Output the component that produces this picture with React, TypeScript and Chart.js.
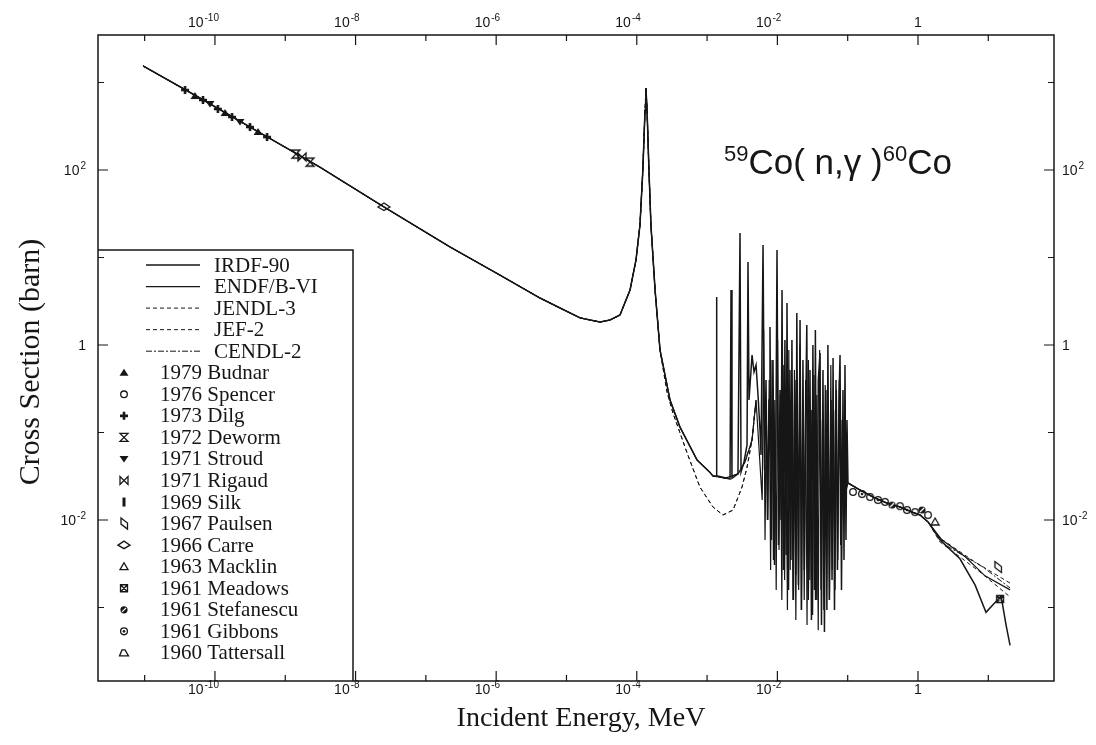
import React, { useEffect, useRef } from 'react';
import { Chart, registerables } from 'chart.js';

Chart.register(...registerables);

// ---------------- data (energy in MeV, cross section in barn) ----------------
// shared low-energy part: 1/v region and the 132 eV resonance
const lowEnergy = [9.5e-12, 6.1e-11, 4.4e-10, 3.1e-9, 2.53e-8, 2.2e-7, 1.13e-6, 4.2e-6, 8.1e-6, 1.56e-5, 3.0e-5, 4.16e-5, 5.77e-5, 8.02e-5, 9.75e-5, 1.11e-4, 1.22e-4, 1.31e-4, 1.35e-4, 1.40e-4, 1.49e-4, 1.59e-4, 1.82e-4, 2.14e-4];
const lowSigma = [1545, 665, 265, 108, 37.8, 13.2, 6.3, 3.44, 2.65, 2.04, 1.83, 1.93, 2.2, 4.26, 9.4, 23.5, 100, 485, 865, 485, 100, 23.5, 4.26, 0.877];

// upper valley after the resonance (IRDF-90, ENDF/B-VI, CENDL-2)
const upperValleyEnergy = [2.97e-4, 4.1e-4, 7.2e-4, 1.10e-3];
const upperValleySigma = [0.235, 0.116, 0.0485, 0.035];
const upperRestEnergy = [1.21e-3, 1.8e-3, 2.75e-3, 3.46e-3, 4.36e-3, 4.97e-3];
const upperRestSigma = [0.0318, 0.030, 0.0336, 0.046, 0.082, 0.235];

// lower valley (JENDL-3, JEF-2)
const lowerValleyEnergy = [2.69e-4, 3.27e-4, 5.2e-4, 7.9e-4, 1.21e-3, 1.68e-3, 2.34e-3, 3.14e-3, 3.7e-3, 4.35e-3, 4.97e-3];
const lowerValleySigma = [0.29, 0.167, 0.0583, 0.0238, 0.0141, 0.0114, 0.0130, 0.0238, 0.040, 0.082, 0.235];

// resolved resonance region, IRDF-90 (keV)
const bandKeV = [1.21, 1.34, 1.36, 1.38, 2.12, 2.19, 2.26, 2.75, 2.94, 3.04, 3.35, 3.70, 3.82, 3.95, 4.22, 4.36, 4.65, 4.97, 5.30, 5.66, 5.85, 6.25, 6.57, 6.89, 7.23, 7.60, 7.85, 8.24, 8.66, 9.10, 9.56, 9.88, 10.37, 10.9, 11.26, 11.64, 12.2, 12.8, 13.3, 13.7, 14.4, 15.1, 15.6, 16.1, 16.9, 17.7, 18.3, 18.9, 19.9, 21.0, 22.0, 23.1, 24.2, 25.4, 26.2, 27.5, 29.1, 30.5, 32.0, 33.6, 34.7, 36.4, 38.2, 40.4, 42.4, 44.5, 46.7, 49.0, 50.6, 52.3, 54.9, 57.9, 59.9, 61.9, 64.9, 68.1, 71.5, 75.3, 77.8, 81.6, 85.7, 88.6, 91.5, 94.5, 97.7];
const bandSigma = [0.0318, 0.032, 3.54, 0.032, 0.0294, 4.26, 0.030, 0.0336, 19.0, 0.0354, 0.046, 0.072, 8.9, 0.235, 0.518, 0.769, 0.491, 0.59, 0.268, 0.107, 0.0553, 13.9, 0.0373, 0.398, 0.01, 0.235, 1.61, 0.0059, 0.674, 0.00306, 0.139, 12.2, 0.00518, 0.306, 0.01, 4.26, 0.00268, 1.14, 0.00398, 3.02, 0.00158, 0.518, 0.00349, 1.14, 0.00122, 0.398, 0.00235, 2.32, 0.00181, 1.93, 0.000936, 0.674, 0.00268, 0.235, 1.69, 0.00122, 0.518, 0.00072, 1.0, 0.00158, 1.48, 0.00122, 0.398, 0.81, 0.00063, 0.518, 0.000525, 0.306, 0.000936, 1.0, 0.00122, 0.235, 0.00206, 0.71, 0.000936, 0.398, 0.00268, 0.235, 0.769, 0.00158, 0.306, 0.00349, 0.59, 0.0059, 0.139];

// resolved resonance region, ENDF/B-VI (keV)
const endfBandKeV = [6.08, 6.37, 6.67, 6.98, 7.31, 7.65, 8.01, 8.39, 8.78, 9.19, 9.62, 10.07, 10.55, 11.04, 11.56, 12.10, 12.67, 13.27, 13.89, 14.54, 15.22, 15.94, 16.69, 17.47, 18.29, 19.15, 20.05, 20.99, 21.97, 23.00, 24.08, 25.21, 26.40, 27.63, 28.93, 30.29, 31.71, 33.20, 34.76, 36.39, 38.10, 39.88, 41.76, 43.71, 45.77, 47.91, 50.16, 52.52, 54.98, 57.56, 60.26, 63.09, 66.05, 69.15, 72.40, 75.79, 79.35, 83.07, 86.97, 91.05, 95.3];
const endfBandSigma = [0.0169, 1.48, 0.0059, 0.139, 0.01, 0.398, 0.00268, 0.674, 0.00349, 0.235, 0.00158, 1.14, 0.00454, 0.268, 0.00122, 0.59, 0.00206, 0.181, 0.000936, 0.877, 0.00268, 0.306, 0.00122, 0.518, 0.00072, 0.139, 0.00158, 1.0, 0.000936, 0.235, 0.00122, 0.398, 0.00063, 0.674, 0.00206, 0.181, 0.00082, 0.454, 0.00122, 0.268, 0.00055, 0.877, 0.00158, 0.139, 0.000936, 0.349, 0.00206, 0.235, 0.00122, 0.59, 0.00268, 0.181, 0.00158, 0.306, 0.00349, 0.398, 0.00518, 0.139, 0.01, 0.235, 0.022];

// common fast region
const tailEnergy = [0.101, 0.15, 0.229, 0.362, 0.555, 0.85, 1.07, 1.39];
const tailSigma = [0.0265, 0.022, 0.0183, 0.0156, 0.0141, 0.0122, 0.0114, 0.0095];

// high-energy ends of each evaluation
const irdfHighEnergy = [2.06, 3.95, 6.5, 9.27, 15.2, 17.9, 20.4];
const irdfHighSigma = [0.0059, 0.0036, 0.0018, 0.00088, 0.00135, 0.00063, 0.00037];
const endfHighEnergy = [2.2, 4.7, 8.97, 20.4];
const endfHighSigma = [0.0059, 0.0038, 0.0023, 0.00159];
const jendlHighEnergy = [2.06, 6.5, 20.4];
const jendlHighSigma = [0.0062, 0.0033, 0.0019];
const jefHighEnergy = [2.06, 7.6, 20.4];
const jefHighSigma = [0.0056, 0.00255, 0.00132];
const cendlHighEnergy = [2.42, 8.4, 20.4];
const cendlHighSigma = [0.0052, 0.0029, 0.00167];

// experimental points
const budnarE = [5.2e-11, 1.39e-10, 4.1e-10];
const budnarS = [700, 448, 272];
const spencerE = [0.119, 0.208, 0.34, 0.555, 0.908, 1.39];
const spencerS = [0.0209, 0.0183, 0.0161, 0.0144, 0.0123, 0.0114];
const dilgE = [3.75e-11, 6.76e-11, 1.1e-10, 1.75e-10, 3.15e-10, 5.5e-10];
const dilgS = [820, 631, 498, 403, 310, 238];
const dewormE = [1.42e-9, 2.25e-9];
const dewormS = [152, 123];
const stroudE = [8.5e-11, 2.27e-10];
const stroudS = [568, 354];
const rigaudE = [1.73e-9];
const rigaudS = [141];
const silkE: number[] = [];
const silkS: number[] = [];
const paulsenE = [13.7];
const paulsenS = [0.0029];
const carreE = [2.53e-8];
const carreS = [37.8];
const macklinE = [1.75];
const macklinS = [0.0095];
const meadowsE = [14.7];
const meadowsS = [0.00125];
const stefanescuE = [0.427, 1.14];
const stefanescuS = [0.0148, 0.013];
const gibbonsE = [0.16, 0.27, 0.698];
const gibbonsS = [0.0198, 0.0169, 0.013];
const tattersallE: number[] = [];
const tattersallS: number[] = [];

// axes
const xMinE = 2.17e-12;
const xMaxE = 86;
const yMinS = 1.445e-4;
const yMaxS = 3490;
const xDecades = [-11, -10, -9, -8, -7, -6, -5, -4, -3, -2, -1, 0, 1];
const xLabelExps = [-10, -8, -6, -4, -2, 0];
const yDecades = [-3, -2, -1, 0, 1, 2, 3];
const yLabelExps = [2, 0, -2];

const lineNames = ['IRDF-90', 'ENDF/B-VI', 'JENDL-3', 'JEF-2', 'CENDL-2'];
const lineDashes: number[][] = [[], [], [4, 3], [4, 3], [6, 2, 2, 2]];
const lineWidths = [1.5, 1.2, 1.0, 1.0, 1.0];
const expNames = ['1979 Budnar', '1976 Spencer', '1973 Dilg', '1972 Deworm', '1971 Stroud', '1971 Rigaud', '1969 Silk', '1967 Paulsen', '1966 Carre', '1963 Macklin', '1961 Meadows', '1961 Stefanescu', '1961 Gibbons', '1960 Tattersall'];
const expKinds = ['budnar', 'spencer', 'dilg', 'deworm', 'stroud', 'rigaud', 'silk', 'paulsen', 'carre', 'macklin', 'meadows', 'stefanescu', 'gibbons', 'tattersall'];
const expEnergies = [budnarE, spencerE, dilgE, dewormE, stroudE, rigaudE, silkE, paulsenE, carreE, macklinE, meadowsE, stefanescuE, gibbonsE, tattersallE];
const expSigmas = [budnarS, spencerS, dilgS, dewormS, stroudS, rigaudS, silkS, paulsenS, carreS, macklinS, meadowsS, stefanescuS, gibbonsS, tattersallS];

const INK = '#161616';
const SANS = '"Liberation Sans", Arial, Helvetica, sans-serif';
const SERIF = '"Liberation Serif", "Times New Roman", serif';

type P = { x: number; y: number | null };
const pts = (es: number[], ss: number[], scale = 1): P[] => es.map((e, i) => ({ x: e * scale, y: ss[i] }));
const GAP: P[] = [{ x: 0.03, y: null }];

function drawSymbol(ctx: CanvasRenderingContext2D, kind: string, cx: number, cy: number) {
  ctx.save();
  ctx.strokeStyle = INK;
  ctx.fillStyle = INK;
  ctx.lineWidth = 1.3;
  ctx.beginPath();
  switch (kind) {
    case 'budnar':
      ctx.moveTo(cx, cy - 4); ctx.lineTo(cx + 4.5, cy + 3); ctx.lineTo(cx - 4.5, cy + 3); ctx.closePath(); ctx.fill();
      break;
    case 'spencer':
      ctx.arc(cx, cy, 3.3, 0, Math.PI * 2); ctx.stroke();
      break;
    case 'dilg':
      ctx.lineWidth = 2.6;
      ctx.moveTo(cx - 4, cy); ctx.lineTo(cx + 4, cy); ctx.moveTo(cx, cy - 4); ctx.lineTo(cx, cy + 4); ctx.stroke();
      break;
    case 'deworm':
      ctx.moveTo(cx - 4, cy - 4); ctx.lineTo(cx + 4, cy - 4); ctx.lineTo(cx - 4, cy + 4); ctx.lineTo(cx + 4, cy + 4); ctx.closePath(); ctx.stroke();
      break;
    case 'stroud':
      ctx.moveTo(cx - 4.5, cy - 3); ctx.lineTo(cx + 4.5, cy - 3); ctx.lineTo(cx, cy + 3.5); ctx.closePath(); ctx.fill();
      break;
    case 'rigaud':
      ctx.moveTo(cx - 4, cy - 4); ctx.lineTo(cx - 4, cy + 4); ctx.lineTo(cx + 4, cy - 4); ctx.lineTo(cx + 4, cy + 4); ctx.closePath(); ctx.stroke();
      break;
    case 'silk':
      ctx.fillRect(cx - 1.5, cy - 4.5, 3, 9);
      break;
    case 'paulsen':
      ctx.moveTo(cx - 3, cy - 5.5); ctx.lineTo(cx + 3.5, cy - 0.5); ctx.lineTo(cx + 3.5, cy + 5.5); ctx.lineTo(cx - 3, cy + 0.5); ctx.closePath(); ctx.stroke();
      break;
    case 'carre':
      ctx.moveTo(cx - 6, cy); ctx.lineTo(cx, cy - 4); ctx.lineTo(cx + 6, cy); ctx.lineTo(cx, cy + 3.5); ctx.closePath(); ctx.stroke();
      break;
    case 'macklin':
      ctx.moveTo(cx, cy - 4); ctx.lineTo(cx + 4, cy + 3); ctx.lineTo(cx - 4, cy + 3); ctx.closePath(); ctx.stroke();
      break;
    case 'meadows':
      ctx.rect(cx - 3.5, cy - 3.5, 7, 7); ctx.moveTo(cx - 3.5, cy - 3.5); ctx.lineTo(cx + 3.5, cy + 3.5); ctx.moveTo(cx + 3.5, cy - 3.5); ctx.lineTo(cx - 3.5, cy + 3.5); ctx.stroke();
      break;
    case 'stefanescu':
      ctx.arc(cx, cy, 3.6, 0, Math.PI * 2); ctx.fill();
      ctx.beginPath(); ctx.strokeStyle = '#fff'; ctx.lineWidth = 1.2; ctx.moveTo(cx - 2, cy + 2); ctx.lineTo(cx + 2, cy - 2); ctx.stroke();
      break;
    case 'gibbons':
      ctx.arc(cx, cy, 3.4, 0, Math.PI * 2); ctx.stroke();
      ctx.beginPath(); ctx.arc(cx, cy, 1.3, 0, Math.PI * 2); ctx.fill();
      break;
    case 'tattersall':
      ctx.moveTo(cx - 4.5, cy + 3); ctx.lineTo(cx + 4.5, cy + 3); ctx.lineTo(cx + 1, cy - 3); ctx.lineTo(cx - 2, cy - 3); ctx.closePath(); ctx.stroke();
      break;
  }
  ctx.restore();
}

function symbolCanvas(kind: string): HTMLCanvasElement {
  const c = document.createElement('canvas');
  c.width = 16; c.height = 16;
  const g = c.getContext('2d')!;
  drawSymbol(g, kind, 8, 8);
  return c;
}

function powLabel(ctx: CanvasRenderingContext2D, exp: number, x: number, y: number, mode: 'tick' | 'left' | 'right') {
  const base = exp === 0 ? '1' : '10';
  const sup = exp === 0 ? '' : String(exp);
  ctx.font = `14px ${SANS}`;
  const bw = ctx.measureText(base).width;
  ctx.font = `10px ${SANS}`;
  const sw = sup ? ctx.measureText(sup).width + 1 : 0;
  const total = bw + sw;
  let left: number;
  if (mode === 'left') left = x;
  else if (mode === 'right') left = x - total;
  else left = exp === 0 ? x - total / 2 : x + 4 - total;
  ctx.textAlign = 'left';
  ctx.textBaseline = 'alphabetic';
  ctx.font = `14px ${SANS}`;
  ctx.fillText(base, left, y);
  if (sup) {
    ctx.font = `10px ${SANS}`;
    ctx.fillText(sup, left + bw + 1, y - 6);
  }
}

const decorations = {
  id: 'decorations',
  afterDatasetsDraw(chart: any) {
    const { ctx, chartArea: a, scales } = chart;
    const xs = scales.x;
    const ys = scales.y;
    ctx.save();
    ctx.fillStyle = INK;
    ctx.strokeStyle = INK;

    // legend box
    const lgRight = 353;
    const lgTop = 250;
    ctx.fillStyle = '#fff';
    ctx.fillRect(a.left, lgTop, lgRight - a.left, a.bottom - lgTop);
    ctx.fillStyle = INK;
    ctx.lineWidth = 1.5;
    ctx.beginPath();
    ctx.moveTo(a.left, lgTop); ctx.lineTo(lgRight, lgTop); ctx.lineTo(lgRight, a.bottom);
    ctx.stroke();
    const rowY = (i: number) => 265 + i * 21.55;
    ctx.font = `21px ${SERIF}`;
    ctx.textAlign = 'left';
    ctx.textBaseline = 'middle';
    lineNames.forEach((name, i) => {
      const y = rowY(i);
      ctx.save();
      ctx.lineWidth = lineWidths[i];
      ctx.setLineDash(lineDashes[i]);
      ctx.beginPath(); ctx.moveTo(146, y); ctx.lineTo(200, y); ctx.stroke();
      ctx.restore();
      ctx.fillText(name, 214, y + 1);
    });
    expNames.forEach((name, i) => {
      const y = rowY(i + lineNames.length);
      drawSymbol(ctx, expKinds[i], 124, y);
      ctx.fillText(name, 160, y + 1);
    });

    // frame
    ctx.lineWidth = 1.5;
    ctx.strokeRect(a.left, a.top, a.right - a.left, a.bottom - a.top);

    // ticks
    ctx.lineWidth = 1.2;
    ctx.beginPath();
    xDecades.forEach((e) => {
      const px = xs.getPixelForValue(Math.pow(10, e));
      const len = xLabelExps.includes(e) ? 10 : 6;
      ctx.moveTo(px, a.bottom); ctx.lineTo(px, a.bottom - len);
      ctx.moveTo(px, a.top); ctx.lineTo(px, a.top + len);
    });
    yDecades.forEach((e) => {
      const py = ys.getPixelForValue(Math.pow(10, e));
      const len = yLabelExps.includes(e) ? 10 : 6;
      ctx.moveTo(a.left, py); ctx.lineTo(a.left + len, py);
      ctx.moveTo(a.right, py); ctx.lineTo(a.right - len, py);
    });
    ctx.stroke();

    // tick labels
    xLabelExps.forEach((e) => {
      const px = xs.getPixelForValue(Math.pow(10, e));
      powLabel(ctx, e, px, a.bottom + 13, 'tick');
      powLabel(ctx, e, px, a.top - 8, 'tick');
    });
    yLabelExps.forEach((e) => {
      const py = ys.getPixelForValue(Math.pow(10, e));
      powLabel(ctx, e, a.left - 12, py + 5, 'right');
      powLabel(ctx, e, a.right + 8, py + 5, 'left');
    });

    // axis titles
    ctx.textAlign = 'center';
    ctx.textBaseline = 'middle';
    ctx.font = `28px ${SERIF}`;
    ctx.fillText('Incident Energy, MeV', 581, 719);
    ctx.save();
    ctx.translate(31, 362);
    ctx.rotate(-Math.PI / 2);
    ctx.font = `30px ${SERIF}`;
    ctx.fillText('Cross Section (barn)', 0, 0);
    ctx.restore();

    // reaction title
    ctx.textAlign = 'left';
    ctx.textBaseline = 'alphabetic';
    let tx = 724;
    const ty = 174;
    const part = (s: string, size: number, rise: number) => {
      ctx.font = `${size}px ${SANS}`;
      ctx.fillText(s, tx, ty - rise);
      tx += ctx.measureText(s).width;
    };
    part('59', 22, 13);
    part('Co( n,\u03b3 )', 35, 0);
    part('60', 22, 13);
    part('Co', 35, 0);

    ctx.restore();
  },
};

export default function App() {
  const ref = useRef<HTMLCanvasElement | null>(null);
  useEffect(() => {
    const canvas = ref.current;
    if (!canvas) return;
    const low = pts(lowEnergy, lowSigma);
    const upV = pts(upperValleyEnergy, upperValleySigma);
    const upR = pts(upperRestEnergy, upperRestSigma);
    const loV = pts(lowerValleyEnergy, lowerValleySigma);
    const band = pts(bandKeV, bandSigma, 1e-3);
    const endfBand = pts(endfBandKeV, endfBandSigma, 1e-3);
    const tail = pts(tailEnergy, tailSigma);
    const seriesData: P[][] = [
      [...low, ...upV, ...band, ...tail, ...pts(irdfHighEnergy, irdfHighSigma)],
      [...low, ...upV, ...upR, ...endfBand, ...tail, ...pts(endfHighEnergy, endfHighSigma)],
      [...low, ...loV, ...GAP, ...tail, ...pts(jendlHighEnergy, jendlHighSigma)],
      [...low, ...loV, ...GAP, ...tail, ...pts(jefHighEnergy, jefHighSigma)],
      [...low, ...upV, ...upR, ...GAP, ...tail, ...pts(cendlHighEnergy, cendlHighSigma)],
    ];
    const lineSets = lineNames.map((name, i) => ({
      label: name,
      data: seriesData[i],
      showLine: true,
      spanGaps: false,
      borderColor: INK,
      borderWidth: lineWidths[i],
      borderDash: lineDashes[i],
      pointRadius: 0,
      pointHoverRadius: 0,
      tension: 0,
      fill: false,
      order: 2,
    }));
    const markerSets = expNames.map((name, i) => ({
      label: name,
      data: pts(expEnergies[i], expSigmas[i]),
      showLine: false,
      pointStyle: symbolCanvas(expKinds[i]),
      pointRadius: 6,
      pointHoverRadius: 6,
      borderColor: INK,
      backgroundColor: INK,
      order: 1,
    }));
    const chart = new Chart(canvas, {
      type: 'scatter',
      data: { datasets: [...markerSets, ...lineSets] as any },
      options: {
        animation: false,
        responsive: false,
        layout: { padding: { left: 98, right: 42, top: 35, bottom: 64 } },
        plugins: { legend: { display: false }, tooltip: { enabled: false } },
        events: [],
        scales: {
          x: { type: 'logarithmic', min: xMinE, max: xMaxE, display: false },
          y: { type: 'logarithmic', min: yMinS, max: yMaxS, display: false },
        },
      },
      plugins: [decorations],
    });
    return () => chart.destroy();
  }, []);
  return (
    <div style={{ position: 'fixed', left: 0, top: 0, width: 1096, height: 745, background: '#fff' }}>
      <canvas ref={ref} width={1096} height={745} style={{ display: 'block' }} />
    </div>
  );
}
